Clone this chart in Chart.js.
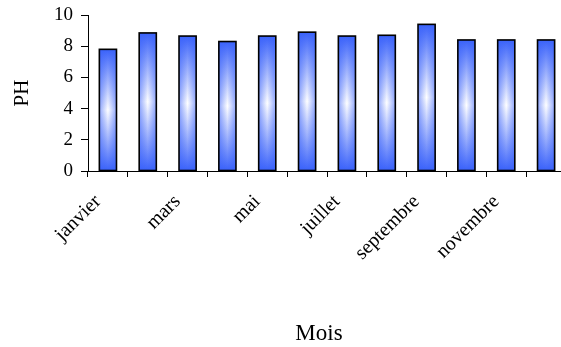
<!DOCTYPE html>
<html>
<head>
<meta charset="utf-8">
<script src="https://cdn.jsdelivr.net/npm/chart.js@4/dist/chart.umd.min.js"></script>
<style>
  html, body { margin: 0; padding: 0; background: #fff; overflow: hidden; }
  #wrap { width: 570px; height: 347px; }
</style>
</head>
<body>
<div id="wrap"><canvas id="c" width="570" height="347"></canvas></div>
<script>
// Monthly pH readings
const months = ['janvier', 'février', 'mars', 'avril', 'mai', 'juin',
                'juillet', 'août', 'septembre', 'octobre', 'novembre', 'décembre'];
const phValues = [7.8, 8.85, 8.65, 8.3, 8.65, 8.9, 8.65, 8.7, 9.4, 8.4, 8.4, 8.4];
const yTicks = [0, 2, 4, 6, 8, 10];
const xTitle = 'Mois';
const yTitle = 'PH';

const SERIF = '"Liberation Serif", "Times New Roman", serif';
const BLUE = 'rgb(58, 98, 250)';

// Fills each bar with a glow: blue at top and bottom, white in the middle,
// deeper blue toward the sides, then outlines it in black.
const glowBars = {
  id: 'glowBars',
  afterDatasetsDraw(chart) {
    const ctx = chart.ctx;
    chart.getDatasetMeta(0).data.forEach(bar => {
      const { x, y, base, width } = bar.getProps(['x', 'y', 'base', 'width'], true);
      const left = x - width / 2, top = Math.min(y, base), h = Math.abs(base - y);
      ctx.save();
      const gv = ctx.createLinearGradient(0, top, 0, top + h);
      gv.addColorStop(0, BLUE);
      gv.addColorStop(0.5, 'rgb(255, 255, 255)');
      gv.addColorStop(1, BLUE);
      ctx.fillStyle = gv;
      ctx.fillRect(left, top, width, h);
      const gh = ctx.createLinearGradient(left, 0, left + width, 0);
      gh.addColorStop(0, 'rgba(58, 98, 250, 0.55)');
      gh.addColorStop(0.5, 'rgba(58, 98, 250, 0)');
      gh.addColorStop(1, 'rgba(58, 98, 250, 0.55)');
      ctx.fillStyle = gh;
      ctx.fillRect(left, top, width, h);
      ctx.lineWidth = 1.6;
      ctx.strokeStyle = '#000';
      ctx.strokeRect(left, top, width, h);
      ctx.restore();
    });
  }
};

// Category-axis caption, set slightly left of the plot's centre.
const xCaption = {
  id: 'xCaption',
  afterDraw(chart) {
    const ctx = chart.ctx;
    const area = chart.chartArea;
    ctx.save();
    ctx.font = '23px ' + SERIF;
    ctx.fillStyle = '#000';
    ctx.textAlign = 'center';
    ctx.textBaseline = 'alphabetic';
    ctx.fillText(xTitle, area.left + 231, chart.height - 7);
    ctx.restore();
  }
};

new Chart(document.getElementById('c'), {
  type: 'bar',
  data: {
    labels: months,
    datasets: [{
      data: phValues,
      backgroundColor: BLUE,
      borderWidth: 0,
      barPercentage: 0.43,
      categoryPercentage: 1.0
    }]
  },
  options: {
    responsive: false,
    animation: false,
    layout: { padding: { top: 15, right: 4, left: 0, bottom: 0 } },
    plugins: { legend: { display: false }, tooltip: { enabled: false } },
    scales: {
      x: {
        offset: true,
        grid: { display: true, offset: true, drawOnChartArea: false, drawTicks: true,
                tickLength: 6, color: '#000', lineWidth: 1 },
        border: { display: true, color: '#000', width: 1 },
        ticks: {
          autoSkip: false, maxRotation: 45, minRotation: 45, padding: 13, labelOffset: -10,
          color: '#000', font: { family: SERIF, size: 20 },
          callback: (v, i) => (i % 2 === 0 ? months[i] : '')
        },
        title: { display: false },
        afterFit: s => { s.height = 176; s.paddingLeft = 0; s.paddingRight = 0; }
      },
      y: {
        min: 0, max: 10,
        afterBuildTicks: s => { s.ticks = yTicks.map(v => ({ value: v })); },
        grid: { display: true, drawOnChartArea: false, drawTicks: true,
                tickLength: 7, color: '#000', lineWidth: 1 },
        border: { display: true, color: '#000', width: 1 },
        ticks: { color: '#000', padding: 8, font: { family: SERIF, size: 19 } },
        title: { display: true, text: yTitle, color: '#000',
                 font: { family: SERIF, size: 21 }, padding: { top: 10, bottom: 4 } },
        afterFit: s => { s.width = 88; s.paddingTop = 0; s.paddingBottom = 0; }
      }
    }
  },
  plugins: [glowBars, xCaption]
});
</script>
</body>
</html>
